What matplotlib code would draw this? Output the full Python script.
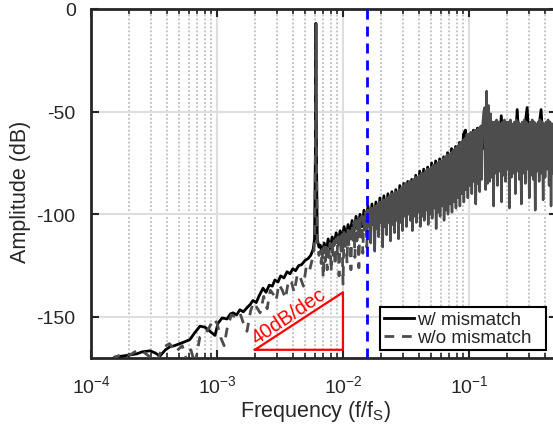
import numpy as np
import matplotlib
matplotlib.use("Agg")
import matplotlib.pyplot as plt
from matplotlib.ticker import LogLocator, FixedLocator, NullFormatter, FixedFormatter

plt.rcParams['font.family'] = ['Liberation Sans', 'DejaVu Sans']
plt.rcParams['mathtext.fontset'] = 'custom'
plt.rcParams['mathtext.rm'] = 'Liberation Sans'
plt.rcParams['mathtext.it'] = 'Liberation Sans:italic'
plt.rcParams['mathtext.bf'] = 'Liberation Sans:bold'
plt.rcParams['axes.unicode_minus'] = False

# ---------------- data ----------------
# low-frequency part + signal tone, "w/ mismatch"
low_f_w = [1.45e-4, 1.55e-4, 1.8e-4, 2.04e-4, 2.3e-4, 2.55e-4, 2.94e-4, 3.22e-4, 3.53e-4, 3.9e-4,
           4.24e-4, 4.6e-4, 5.08e-4, 5.6e-4, 6.1e-4, 6.6e-4, 7.33e-4, 8.03e-4, 8.8e-4, 9.64e-4,
           1.02e-3, 1.1e-3, 1.2e-3, 1.28e-3, 1.34e-3, 1.43e-3, 1.52e-3, 1.62e-3, 1.73e-3, 1.83e-3,
           1.93e-3, 2.05e-3, 2.15e-3, 2.32e-3, 2.45e-3, 2.6e-3, 2.75e-3, 2.88e-3, 3.05e-3, 3.2e-3,
           3.4e-3, 3.6e-3, 3.8e-3, 4.0e-3, 4.2e-3, 4.45e-3, 4.7e-3, 5.0e-3, 5.3e-3, 5.55e-3,
           5.8e-3, 5.95e-3, 6.04e-3, 6.1e-3, 6.16e-3, 6.25e-3, 6.45e-3]
low_db_w = [-171, -169.5, -169, -168.5, -168, -167, -166.5, -167.5, -169, -166,
            -164.5, -164, -163, -162, -161, -158, -154.5, -155, -157, -159,
            -153, -150.5, -151, -148.5, -148, -149, -146.5, -147.5, -145.5, -144,
            -142, -143, -140, -136, -138, -134.5, -135, -132, -133, -130,
            -131, -128, -129, -126.5, -127.5, -125, -124.5, -122.5, -121.5, -120,
            -117, -112, -70, -7, -70, -112, -116]

# low-frequency part + signal tone, "w/o mismatch"
low_f_wo = [1.45e-4, 1.7e-4, 2.04e-4, 2.3e-4, 2.6e-4, 2.94e-4, 3.3e-4, 3.7e-4, 4.2e-4, 4.7e-4,
            5.3e-4, 5.8e-4, 6.2e-4, 6.7e-4, 7.3e-4, 8.0e-4, 8.7e-4, 9.4e-4, 1.0e-3, 1.07e-3,
            1.14e-3, 1.2e-3, 1.3e-3, 1.4e-3, 1.52e-3, 1.62e-3, 1.73e-3, 1.85e-3, 1.95e-3, 2.05e-3,
            2.2e-3, 2.35e-3, 2.5e-3, 2.65e-3, 2.8e-3, 2.95e-3, 3.1e-3, 3.3e-3, 3.5e-3, 3.7e-3,
            3.9e-3, 4.1e-3, 4.35e-3, 4.6e-3, 4.85e-3, 5.1e-3, 5.4e-3, 5.65e-3, 5.85e-3, 5.97e-3,
            6.04e-3, 6.1e-3, 6.16e-3, 6.25e-3, 6.45e-3]
low_db_wo = [-171, -168.5, -168.5, -166.5, -167, -169.5, -172, -165, -163, -167,
             -164, -172, -166, -173, -160, -158.5, -155, -151, -153, -160,
             -164, -156, -149, -150, -148, -153, -157, -147, -143, -145,
             -148, -140, -146, -137, -139, -142, -134, -137, -141, -132,
             -133, -138, -129, -131, -135, -126, -128, -123, -119, -112,
             -70, -7.5, -70, -114, -120]

# shaped-noise band above the tone (log-spaced sampling from 6.6e-3 to 0.5)
band_range = (6.6e-3, 0.5)
band_db_w = [-115, -119, -114, -118, -112, -117, -111, -115, -109, -114,
             -108, -112, -106, -111, -105, -110, -103, -108, -101, -107,
             -100, -106, -98, -104, -96, -106, -95, -105, -94, -104,
             -92, -103, -91, -102, -90, -101, -89, -100, -88, -99,
             -86, -98, -85, -97, -84, -96, -83, -95, -81, -93,
             -79, -92, -78, -91, -77, -90, -75, -89, -74, -88,
             -73, -87, -72, -85, -70, -84, -68, -82, -67, -80,
             -65, -78, -61, -59, -72, -61, -74, -59, -72, -58,
             -71, -57, -68, -53, -48, -53, -66, -56, -68, -57,
             -67, -52, -68, -57, -67, -56, -68, -57, -66, -49,
             -67, -57, -68, -56, -48, -66, -57, -68, -56, -67,
             -57, -49, -66, -57, -68, -56, -67, -57, -66, -57]
band_db_wo = [-118, -124, -117, -131, -116, -123, -116, -127, -115, -121,
              -114, -128, -113, -120, -113, -125, -112, -119, -111, -130,
              -110, -118, -109, -134, -108, -117, -108, -124, -107, -116,
              -106, -127, -105, -114, -104, -121, -103, -113, -103, -126,
              -102, -111, -101, -119, -100, -110, -99, -116, -98, -106,
              -98, -114, -97, -105, -97, -118, -96, -107, -95, -111,
              -94, -104, -94, -116, -93, -106, -93, -110, -92, -104,
              -91, -113, -90, -105, -90, -109, -89, -103, -89, -112,
              -88, -104, -87, -108, -86, -101, -85, -106, -85, -100,
              -84, -103, -84, -108, -83, -101, -82, -104, -82, -99,
              -81, -106, -80, -101, -80, -103, -79, -98, -78, -105,
              -78, -100, -77, -102, -76, -97, -76, -107, -75, -99,
              -74, -101, -74, -96, -73, -103, -72, -98, -71, -100,
              -71, -95, -70, -99, -69, -94, -68, -97, -67, -92,
              -66, -96, -65, -90, -64, -94, -63, -88, -61, -92,
              -61, -86, -60, -90, -60, -84, -59, -95, -59, -85,
              -58, -89, -57, -83, -56, -50, -48, -88, -40, -85,
              -47, -84, -51, -82, -55, -96, -55, -80, -54, -86,
              -55, -79, -56, -94, -55, -81, -54, -84, -55, -78,
              -55, -97, -54, -82, -56, -80, -55, -90, -54, -79,
              -55, -83, -56, -95, -55, -80, -54, -85, -55, -78,
              -56, -92, -55, -81, -54, -83, -55, -98, -56, -79,
              -55, -84, -54, -80, -55, -93, -56, -82, -55, -78,
              -54, -86, -55, -96, -56, -80, -55, -83, -54, -81]

band_edge = 1 / 64              # signal bandwidth marker
slope_f = [2e-3, 1e-2, 1e-2, 2e-3]
slope_db = [-166, -166, -138, -166]
slope_label = "40dB/dec"
labels = ["w/ mismatch", "w/o mismatch"]
xticks = [1e-4, 1e-3, 1e-2, 1e-1]
xticklabels = [r"$10^{-4}$", r"$10^{-3}$", r"$10^{-2}$", r"$10^{-1}$"]
yticks = [-150, -100, -50, 0]

# ---------------- build series ----------------
band_f_w = np.geomspace(band_range[0], band_range[1], len(band_db_w))
band_f_wo = np.geomspace(band_range[0], band_range[1], len(band_db_wo))
f_w = np.concatenate([low_f_w, band_f_w])
db_w = np.concatenate([low_db_w, band_db_w])
f_wo = np.concatenate([low_f_wo, band_f_wo])
db_wo = np.concatenate([low_db_wo, band_db_wo])
# the dense part of the dashed trace merges visually into a solid band
n_split = len(low_f_wo) + 48

# ---------------- figure ----------------
fig = plt.figure(figsize=(5.53, 4.27), dpi=100)
ax = fig.add_axes([91 / 553, (427 - 359) / 427, (557 - 91) / 553, 349 / 427])
ax.set_xscale('log')

dark = '#262626'
grey = '#4d4d4d'
ax.plot(f_w, db_w, color='black', lw=2.0, label=labels[0], zorder=3)
ax.plot(f_wo[:n_split + 1], db_wo[:n_split + 1], color=grey, lw=2.0, ls=(0, (3.5, 2.8)),
        label=labels[1], zorder=4)
ax.plot(f_wo[n_split:], db_wo[n_split:], color=grey, lw=1.8, ls='-', zorder=4)
ax.axvline(band_edge, color='blue', lw=2.0, ls=(0, (3.6, 2.5)), zorder=5)
ax.plot(slope_f, slope_db, color='red', lw=1.6, zorder=5)
ax.text(2.077e-3, -163.1, slope_label, color='red', fontsize=14.5, rotation=34,
        rotation_mode='anchor', ha='left', va='baseline', zorder=6)

ax.set_xlim(1e-4, 0.5)
ax.set_ylim(-170, 0)

ax.xaxis.set_major_locator(FixedLocator(xticks))
ax.xaxis.set_major_formatter(FixedFormatter(xticklabels))
ax.xaxis.set_minor_locator(LogLocator(base=10, subs=np.arange(2, 10), numticks=20))
ax.xaxis.set_minor_formatter(NullFormatter())
ax.set_yticks(yticks)
ax.set_yticklabels([str(v) for v in yticks])

ax.grid(True, which='major', axis='both', color='#dedede', lw=1.5, zorder=0)
ax.grid(True, which='minor', axis='x', color='#bdbdbd', lw=1.3, ls=(0, (1, 1.2)), zorder=0)
ax.set_axisbelow(True)

ax.tick_params(which='both', direction='in', top=True, right=True, colors=dark,
               labelcolor=dark)
ax.tick_params(which='major', length=6, width=1.5, labelsize=14)
ax.tick_params(axis='y', which='major', pad=11)
ax.tick_params(axis='x', which='major', pad=12)
ax.tick_params(which='minor', length=3.5, width=1.2)
for s in ax.spines.values():
    s.set_color(dark)
    s.set_linewidth(2.0)

ax.set_xlabel(r"Frequency (f/f$_\mathrm{S}$)", fontsize=15.5, color=dark)
ax.set_ylabel("Amplitude (dB)", fontsize=15.5, color=dark)
ax.xaxis.set_label_coords((316 - 91) / 466, (359 - 399) / 349)
ax.yaxis.set_label_coords((31 - 91) / 466, (359 - 191.5) / 349)

leg = ax.legend(loc='lower right', bbox_to_anchor=((546 - 91) / 466, (359 - 351) / 349),
                borderaxespad=0, fontsize=13.5, handlelength=1.6, handletextpad=0.2,
                borderpad=0.2, labelspacing=0.05, fancybox=False, framealpha=1,
                edgecolor='black')
leg.get_frame().set_linewidth(1.5)
for t in leg.get_texts():
    t.set_color(dark)
    t.set_text(t.get_text() + "  ")

fig.savefig('out.png', dpi=100)
